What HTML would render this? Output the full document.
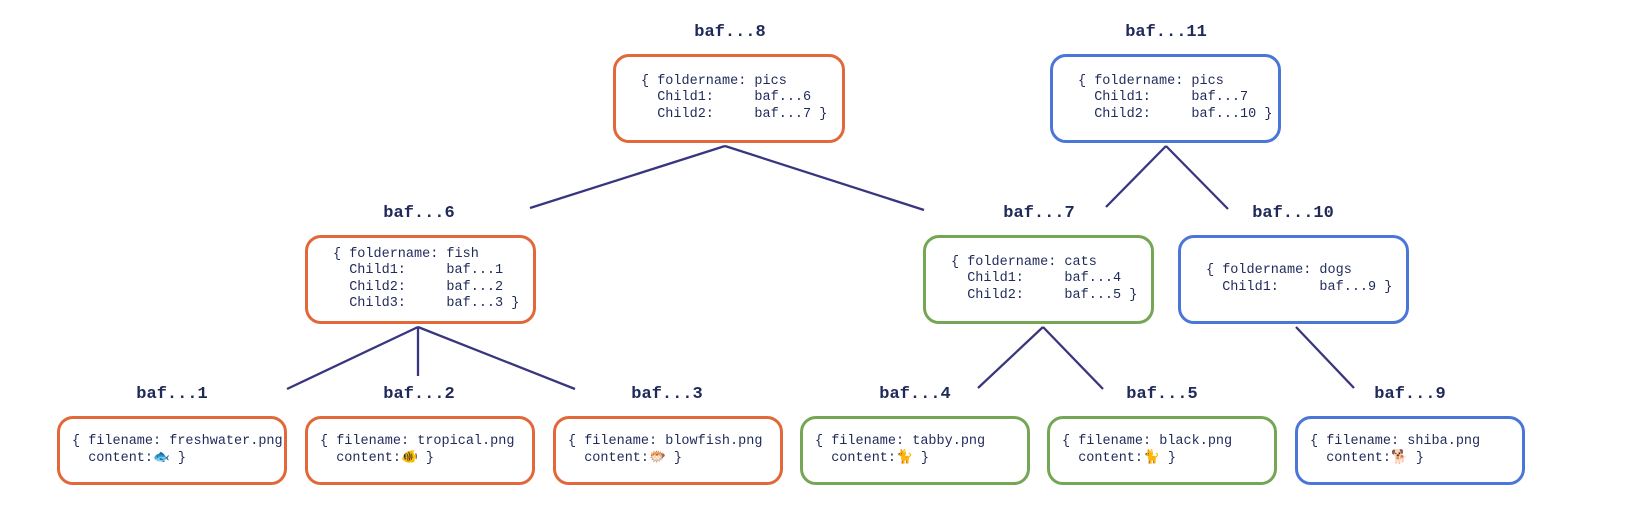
<!DOCTYPE html>
<html><head><meta charset="utf-8"><style>
body{margin:0;width:1632px;height:506px;background:#fff;position:relative;overflow:hidden;font-family:"Liberation Mono",monospace;color:#1f2a5a}
.b{position:absolute;box-sizing:border-box;border:3px solid;border-radius:16px;display:flex;align-items:center;padding-left:25px}
.b pre{margin:0;font-family:"Liberation Mono","DejaVu Sans Mono",monospace;font-size:13.5px;line-height:16.5px;color:#1f2a5a}
.o{border-color:#e0683a}.u{border-color:#4a76d8}.g{border-color:#74a655}
.l{position:absolute;font-weight:bold;font-size:17px;transform:translateX(-50%);white-space:nowrap}
svg{position:absolute;left:0;top:0}
.f{height:69px;top:416px;width:230px;padding-left:12px}
</style></head><body>
<svg width="1632" height="506"><g stroke="#37367e" stroke-width="2.3" fill="none">
<line x1="725" y1="146" x2="530" y2="208"/><line x1="725" y1="146" x2="924" y2="210"/>
<line x1="1166" y1="146" x2="1106" y2="207"/><line x1="1166" y1="146" x2="1228" y2="209"/>
<line x1="418" y1="327" x2="287" y2="389"/><line x1="418" y1="327" x2="418" y2="376"/><line x1="418" y1="327" x2="575" y2="389"/>
<line x1="1043" y1="327" x2="978" y2="388"/><line x1="1043" y1="327" x2="1103" y2="389"/>
<line x1="1296" y1="327" x2="1354" y2="388"/>
</g></svg>
<div class="l" style="left:730px;top:23px">baf...8</div>
<div class="l" style="left:1166px;top:23px">baf...11</div>
<div class="l" style="left:419px;top:204px">baf...6</div>
<div class="l" style="left:1039px;top:204px">baf...7</div>
<div class="l" style="left:1293px;top:204px">baf...10</div>
<div class="l" style="left:172px;top:385px">baf...1</div>
<div class="l" style="left:419px;top:385px">baf...2</div>
<div class="l" style="left:667px;top:385px">baf...3</div>
<div class="l" style="left:915px;top:385px">baf...4</div>
<div class="l" style="left:1162px;top:385px">baf...5</div>
<div class="l" style="left:1410px;top:385px">baf...9</div>

<div class="b o" style="left:613px;top:54px;width:232px;height:89px"><pre>{ foldername: pics
  Child1:     baf...6
  Child2:     baf...7 }</pre></div>
<div class="b u" style="left:1050px;top:54px;width:231px;height:89px"><pre>{ foldername: pics
  Child1:     baf...7
  Child2:     baf...10 }</pre></div>
<div class="b o" style="left:305px;top:235px;width:231px;height:89px"><pre>{ foldername: fish
  Child1:     baf...1
  Child2:     baf...2
  Child3:     baf...3 }</pre></div>
<div class="b g" style="left:923px;top:235px;width:231px;height:89px"><pre>{ foldername: cats
  Child1:     baf...4
  Child2:     baf...5 }</pre></div>
<div class="b u" style="left:1178px;top:235px;width:231px;height:89px"><pre>{ foldername: dogs
  Child1:     baf...9 }</pre></div>

<div class="b o f" style="left:57px"><pre>{ filename: freshwater.png
  content:🐟 }</pre></div>
<div class="b o f" style="left:305px"><pre>{ filename: tropical.png
  content:🐠 }</pre></div>
<div class="b o f" style="left:553px"><pre>{ filename: blowfish.png
  content:🐡 }</pre></div>
<div class="b g f" style="left:800px"><pre>{ filename: tabby.png
  content:🐈 }</pre></div>
<div class="b g f" style="left:1047px"><pre>{ filename: black.png
  content:🐈 }</pre></div>
<div class="b u f" style="left:1295px"><pre>{ filename: shiba.png
  content:🐕 }</pre></div>
</body></html>
